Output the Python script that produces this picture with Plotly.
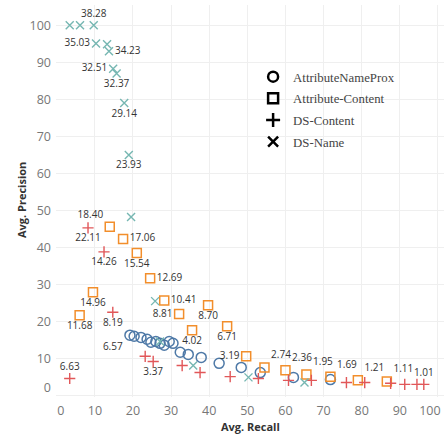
import plotly.graph_objects as go

# AttributeNameProx (circles)
anp_recall = [19.2, 20.3, 22.1, 23.7, 24.7, 26.0, 27.1, 28.2, 29.5, 30.5, 32.4, 34.5, 37.9, 42.6, 48.4, 53.4, 62.1, 71.8]
anp_prec = [16.3, 16.0, 15.7, 15.2, 14.4, 14.6, 14.1, 13.6, 14.6, 14.1, 11.7, 11.1, 10.3, 8.7, 7.6, 6.2, 4.9, 4.3]
anp_label = ["6.57"] + [""] * 17
anp_pos = ["bottom left"] + ["middle right"] * 17

# Attribute-Content (squares)
ac_recall = [13.9, 17.4, 21.0, 24.5, 9.5, 28.2, 32.1, 39.7, 6.0, 35.5, 44.7, 49.7, 54.5, 60.0, 65.5, 71.8, 79.0, 86.6]
ac_prec = [45.6, 42.3, 38.5, 31.7, 27.9, 25.7, 22.0, 24.4, 21.7, 17.6, 18.7, 10.6, 7.6, 6.8, 5.7, 5.1, 4.1, 3.8]
ac_label = ["18.40", "17.06", "15.54", "12.69", "14.96", "10.41", "8.81", "8.70", "11.68", "4.02", "6.71", "3.19",
            "2.74", "2.36", "1.95", "1.69", "1.21", "1.11"]
ac_pos = ["top left", "middle right", "bottom center", "middle right", "bottom center", "middle right", "middle left",
          "bottom center", "bottom center", "bottom center", "bottom center", "middle left",
          "top right", "top right", "top right", "top right", "top right", "top right"]

# DS-Content (plus)
dsc_recall = [3.4, 8.2, 12.4, 14.7, 23.2, 25.3, 32.9, 37.6, 45.5, 52.9, 60.8, 66.8, 76.0, 80.8, 87.6, 91.3, 94.5, 96.3]
dsc_prec = [4.6, 45.3, 38.8, 22.5, 10.6, 9.2, 8.1, 6.2, 5.1, 4.6, 4.1, 4.1, 3.5, 3.5, 3.3, 3.0, 3.0, 3.0]
dsc_label = ["6.63", "22.11", "14.26", "8.19", "", "3.37", "", "", "", "", "", "", "", "", "", "", "", "1.01"]
dsc_pos = ["top center", "bottom center", "bottom center", "bottom center", "middle right", "bottom center"] + \
          ["middle right"] * 11 + ["top center"]

# DS-Name (x)
dsn_recall = [3.4, 6.1, 9.7, 10.3, 13.2, 13.7, 14.8, 15.7, 17.7, 18.9, 19.5, 25.8, 27.1, 35.8, 50.3, 65.0]
dsn_prec = [100.0, 100.0, 100.0, 95.1, 94.9, 93.0, 88.3, 87.0, 79.0, 65.0, 48.2, 25.5, 14.6, 8.1, 4.9, 3.5]
dsn_label = ["", "", "38.28", "35.03", "", "34.23", "32.51", "32.37", "29.14", "23.93", "", "", "", "", "", ""]
dsn_pos = ["top center", "top center", "top center", "middle left", "middle right", "middle right", "middle left",
           "bottom center", "bottom center", "bottom center"] + ["middle right"] * 6

x_ticks = [0, 10, 20, 30, 40, 50, 60, 70, 80, 90, 100]
x_tick_text = ["", "10", "20", "30", "40", "50", "60", "70", "80", "90", ""]
x_first_tick = [0]
x_last_tick = [100]
y_ticks = [0, 10, 20, 30, 40, 50, 60, 70, 80, 90, 100]
y_tick_text = ["0<br>\u2007", "10", "20", "30", "40", "50", "60", "70", "80", "90", "100"]

legend_names = ["AttributeNameProx", "Attribute-Content", "DS-Content", "DS-Name"]
legend_symbols = ["circle-open", "square-open", "cross-thin-open", "x-thin-open"]
legend_axes = ["x2", "x3", "x", "x"]

label_font = dict(family="Open Sans", size=10, color="#333333")
tick_font = dict(family="Open Sans", size=12.5, color="#777777")

series = [
    (anp_recall, anp_prec, anp_label, anp_pos, "circle-open", "#4e79a7", 10, 1.5),
    (ac_recall, ac_prec, ac_label, ac_pos, "square-open", "#f28e2b", 9, 1.5),
    (dsc_recall, dsc_prec, dsc_label, dsc_pos, "cross-thin-open", "#e15759", 8, 1.4),
    (dsn_recall, dsn_prec, dsn_label, dsn_pos, "x-thin-open", "#76b7b2", 8, 1.4),
]

fig = go.Figure()
for xs, ys, labels, pos, sym, col, sz, lw in series:
    fig.add_trace(go.Scatter(
        x=xs, y=ys, mode="markers+text", text=labels, textposition=pos,
        textfont=label_font, showlegend=False, cliponaxis=False,
        marker=dict(symbol=sym, size=sz, color=col, line=dict(color=col, width=lw)),
    ))

for name, sym, xa in zip(legend_names, legend_symbols, legend_axes):
    fig.add_trace(go.Scatter(
        x=[None], y=[None], mode="markers", name=name, legendgroup=name, xaxis=xa, yaxis="y",
        marker=dict(symbol=sym, size=10, color="black", line=dict(color="black", width=2.5)),
    ))

common_x = dict(range=[-0.2, 101.6], zeroline=False, showline=False, automargin=False,
                ticklabeloverflow="allow", tickfont=tick_font, ticks="", ticklabelstandoff=4)

fig.update_layout(
    width=444, height=441,
    margin=dict(l=56, r=0, t=5, b=44, autoexpand=False),
    paper_bgcolor="white", plot_bgcolor="white",
    showlegend=True,
    legend=dict(x=0.508, y=0.855, xanchor="left", yanchor="top", bgcolor="rgba(0,0,0,0)",
                font=dict(family="Liberation Serif", size=12.8, color="#444444"),
                itemwidth=30, tracegroupgap=2),
    font=dict(family="Open Sans"),
    xaxis=dict(tickvals=x_ticks, ticktext=x_tick_text, showgrid=True, gridcolor="#efefef", gridwidth=1, **common_x),
    xaxis2=dict(overlaying="x", matches="x", anchor="y", side="bottom", showgrid=False,
                tickvals=x_last_tick, ticktext=["100"], ticklabelshift=-8, **common_x),
    xaxis3=dict(overlaying="x", matches="x", anchor="y", side="bottom", showgrid=False,
                tickvals=x_first_tick, ticktext=["0"], ticklabelshift=4, **common_x),
    yaxis=dict(range=[-0.4, 105.5], tickvals=y_ticks, ticktext=y_tick_text, showgrid=True, gridcolor="#efefef",
               gridwidth=1, zeroline=False, showline=False, automargin=False, ticklabeloverflow="allow",
               tickfont=tick_font, ticks="", ticklabelstandoff=4),
)

fig.add_annotation(text="<b>Avg. Precision</b>", xref="paper", yref="paper", x=(21 - 56) / 388, y=(397 - 200) / 392,
                   textangle=-90, showarrow=False, font=dict(family="Open Sans", size=11, color="#333333"),
                   xanchor="center", yanchor="middle")
fig.add_annotation(text="<b>Avg. Recall</b>", xref="paper", yref="paper", x=0.5, y=(397 - 427) / 392,
                   showarrow=False, font=dict(family="Open Sans", size=11, color="#333333"),
                   xanchor="center", yanchor="middle")

fig.write_html("out.html", config={"displayModeBar": False},
               post_script="document.body.style.margin='0';")
